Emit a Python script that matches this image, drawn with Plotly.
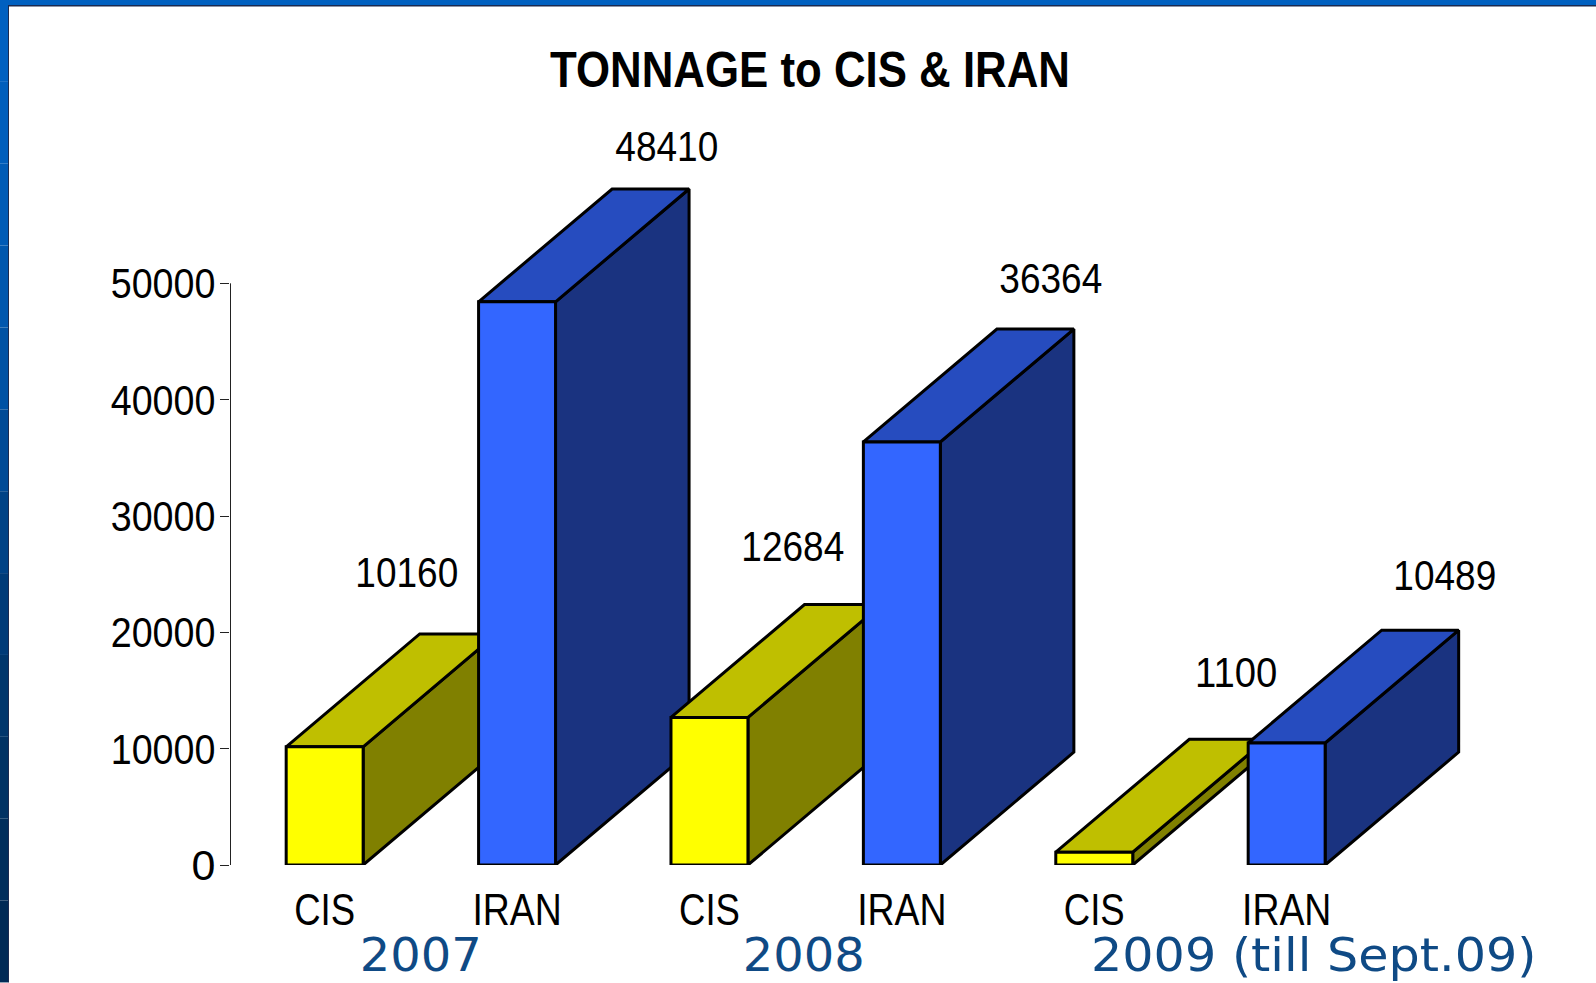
import json
import plotly.graph_objects as go

# ---- data ----
categories = ["CIS", "IRAN", "CIS", "IRAN", "CIS", "IRAN"]
values = [10160, 48410, 12684, 36364, 1100, 10489]
value_labels = ["10160", "48410", "12684", "36364", "1100", "10489"]
y_ticks = [0, 10000, 20000, 30000, 40000, 50000]
year_labels = ["2007", "2008", "2009 (till Sept.09)"]
title_text = "TONNAGE to CIS & IRAN"

# ---- style / layout constants ----
W, H = 1596, 983
L, R, B = 230, 60, 117.5
Y_MAX = 60000
T = 865.5 - 582 * Y_MAX / 50000
BAR_W = 0.40
DEPTH_X = 0.694
DEPTH_Y = 9700
X_LEFT = -0.492
X_RANGE = [X_LEFT, X_LEFT + (W - L - R) / 192.4]
AXIS_X = X_LEFT + 0.5 / 192.4
FONT = "Liberation Sans, Arial, sans-serif"
label_shift = [(82, 175), (150, 156), (84, 171), (149, 164), (142, 180), (158, 168)]
year_x = [0.5, 2.49, 5.14]
YELLOW = dict(front="#FFFF00", top="#BFBF00", side="#808000")
BLUE = dict(front="#3366FF", top="#264CBF", side="#1A3380")
strip_cols = ["#0060C0", "#005EBC", "#005BB6", "#0057AE", "#0052A4", "#004A96",
              "#004286", "#003B78", "#00366C", "#003264", "#002E5C", "#002A56"]

# horizontal squeeze of the condensed type in the reference
stretch = {"CIS": 0.83, "IRAN": 0.85, title_text: 0.876, year_labels[0]: 1.02, year_labels[1]: 1.02,
           year_labels[2]: 1.047}
stretch.update({str(t): 0.875 for t in y_ticks if t})
stretch.update({t: 0.86 for t in value_labels})
stretch["1100"] = 0.89

fig = go.Figure()


def face(xs, ys, color):
    fig.add_trace(go.Scatter(
        x=xs + xs[:1], y=ys + ys[:1], mode="lines", fill="toself",
        fillcolor=color, line=dict(color="#000000", width=3),
        cliponaxis=False, hoverinfo="skip", showlegend=False))


# the value axis line stops at the top tick, below the depth of the tallest bar
fig.add_trace(go.Scatter(x=[AXIS_X, AXIS_X], y=[y_ticks[0], y_ticks[-1]], mode="lines",
                         line=dict(color="#222222", width=1), cliponaxis=False,
                         hoverinfo="skip", showlegend=False))

for i, v in enumerate(values):
    pal = YELLOW if categories[i] == "CIS" else BLUE
    x0, x1 = i - BAR_W / 2, i + BAR_W / 2
    face([x1, x1 + DEPTH_X, x1 + DEPTH_X, x1], [0, DEPTH_Y, v + DEPTH_Y, v], pal["side"])
    face([x0, x1, x1 + DEPTH_X, x0 + DEPTH_X], [v, v, v + DEPTH_Y, v + DEPTH_Y], pal["top"])
    face([x0, x1, x1, x0], [0, 0, v, v], pal["front"])

annotations = []
for i, (v, txt) in enumerate(zip(values, value_labels)):
    annotations.append(dict(x=i, y=v, xref="x", yref="y", text=txt, showarrow=False,
                            xshift=label_shift[i][0], yshift=label_shift[i][1],
                            font=dict(family=FONT, size=43, color="#000000")))
plot_w, plot_h = W - L - R, H - T - B
for xv, txt in zip(year_x, year_labels):
    annotations.append(dict(x=xv, y=(865.5 - 955) / plot_h, xref="x", yref="paper", text=txt,
                            showarrow=False, yanchor="middle",
                            font=dict(family="DejaVu Sans, Verdana, sans-serif", size=47, color="#0F4A85")))


def px_x(p):
    return (p - L) / plot_w


def px_y(p):
    return 1 - (p - T) / plot_h


shapes = [dict(type="rect", xref="paper", yref="paper", x0=px_x(0), x1=px_x(W), y0=px_y(0), y1=px_y(6),
               fillcolor="#0060C0", line_width=0, layer="below"),
          dict(type="rect", xref="paper", yref="paper", x0=px_x(8), x1=px_x(W), y0=px_y(5), y1=px_y(6.5),
               fillcolor="#1A2A50", line_width=0, layer="below")]
n = len(strip_cols)
for k, c in enumerate(strip_cols):
    shapes.append(dict(type="rect", xref="paper", yref="paper", x0=px_x(0), x1=px_x(8),
                       y0=px_y(H * k / n), y1=px_y(H * (k + 1) / n), fillcolor=c, line_width=0, layer="below"))
shapes.append(dict(type="rect", xref="paper", yref="paper", x0=px_x(8), x1=px_x(9), y0=px_y(5), y1=px_y(H),
                   fillcolor="#1A2A50", line_width=0, layer="below"))

fig.update_layout(
    width=W, height=H, autosize=False,
    margin=dict(l=L, r=R, t=T, b=B, pad=0),
    paper_bgcolor="#FFFFFF", plot_bgcolor="rgba(0,0,0,0)",
    showlegend=False, annotations=annotations, shapes=shapes,
    title=dict(text=title_text, xref="container", yref="container", x=810 / W, y=1 - 69 / H,
               xanchor="center", yanchor="middle",
               font=dict(family=FONT, size=50, color="#000000", weight=700)),
    xaxis=dict(range=X_RANGE, tickmode="array", tickvals=list(range(len(categories))), ticktext=categories,
               showgrid=False, zeroline=False, showline=False, ticks="outside", ticklen=6,
               tickcolor="rgba(0,0,0,0)", tickfont=dict(family=FONT, size=44, color="#000000")),
    yaxis=dict(range=[0, Y_MAX], tickmode="array", tickvals=y_ticks, ticktext=[str(t) for t in y_ticks],
               showgrid=False, zeroline=False, showline=False,
               ticks="outside", ticklen=9, tickwidth=1, tickcolor="#222222", ticklabelstandoff=-4,
               tickfont=dict(family=FONT, size=43, color="#000000")),
)

post = """
document.body.style.margin='0';
document.documentElement.style.overflow='hidden';
var stretch = %s;
document.querySelectorAll('svg text').forEach(function (el) {
  var r = stretch[el.textContent];
  if (r) {
    el.setAttribute('textLength', el.getComputedTextLength() * r);
    el.setAttribute('lengthAdjust', 'spacingAndGlyphs');
  }
});
""" % json.dumps(stretch)

fig.write_html("out.html", post_script=post, config=dict(displayModeBar=False))
